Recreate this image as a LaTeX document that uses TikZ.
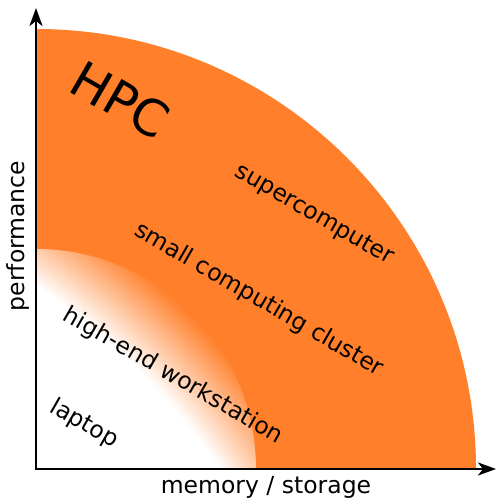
\documentclass[tikz,border=0pt]{standalone}
\usepackage{fontspec}
\setmainfont{DejaVu Sans}
\usetikzlibrary{arrows.meta}
\definecolor{hpc}{RGB}{255,127,42}
\pgfdeclareradialshading{hpcfade}{\pgfpointorigin}{color(0bp)=(white); color(22.1bp)=(white); color(24.5bp)=(hpc); color(50bp)=(hpc)}
\tikzset{
  lbl/.style={font=\fontsize{23.5}{27}\selectfont, inner sep=0pt},
  axis/.style={line width=2.6pt, line join=miter, {Stealth[length=18pt,width=13pt,inset=5pt]}-{Stealth[length=18pt,width=13pt,inset=5pt]}}
}
\begin{document}
\begin{tikzpicture}[x=1pt,y=1pt]
\useasboundingbox (0,0) rectangle (496,500);
\coordinate (O) at (36,31);
\coordinate (ytip) at (36,492);
\coordinate (xtip) at (496,31);
% outer orange quarter disk
\fill[hpc] (O) -- ++(440,0) arc[start angle=0,end angle=90,radius=440] -- cycle;
% inner faded quarter disk
\begin{scope}
  \clip (O) -- ++(220,0) arc[start angle=0,end angle=90,radius=220] -- cycle;
  \shade[shading=hpcfade] (-364,-369) circle (800);
\end{scope}
% axes
\draw[axis] (ytip) -- (O) -- (xtip);
% labels
\node[lbl] (xl) at (266,13) {memory / storage};
\node[lbl, rotate=90] (yl) at (18,264) {performance};
\node[lbl, font=\fontsize{50}{58}\selectfont, rotate=-30] (hpclbl) at (120,400) {HPC};
\node[lbl, rotate=-30] (super) at (314,285) {supercomputer};
\node[lbl, rotate=-30] (cluster) at (259,200) {small computing cluster};
\node[lbl, rotate=-30] (work) at (173,124) {high-end workstation};
\node[lbl, rotate=-30] (lap) at (84,76) {laptop};
\end{tikzpicture}
\end{document}
